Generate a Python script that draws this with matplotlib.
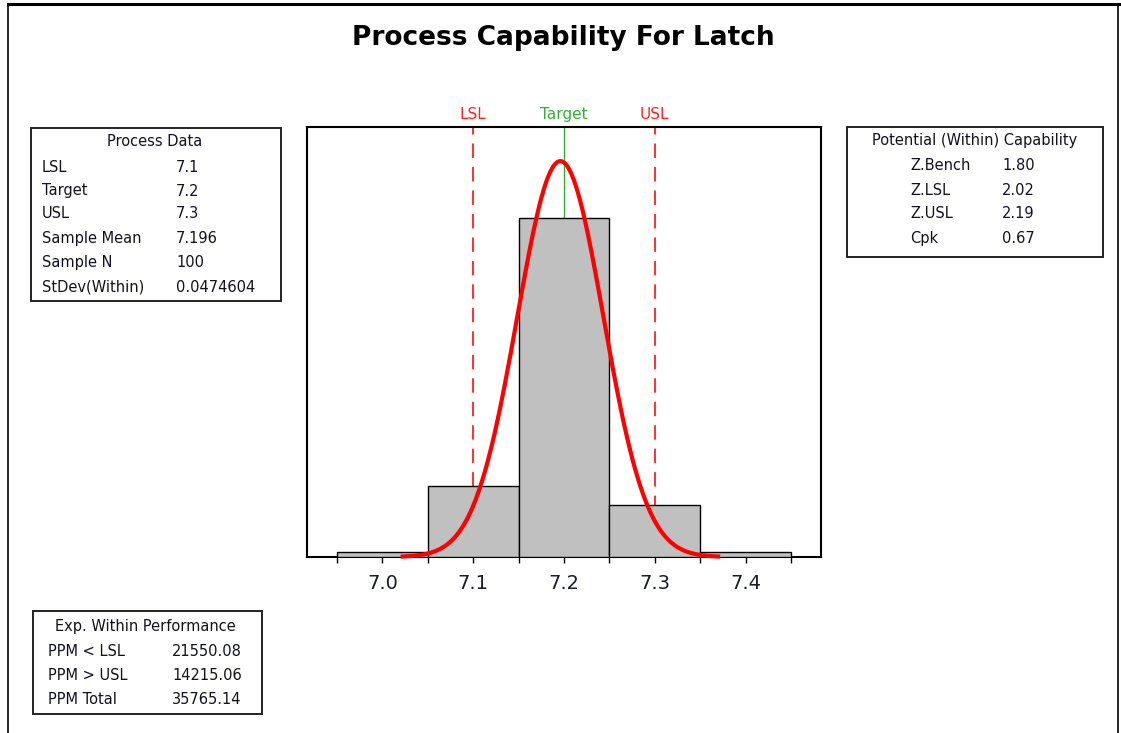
import numpy as np
import matplotlib
matplotlib.use("Agg")
import matplotlib.pyplot as plt
from matplotlib.patches import Rectangle
from matplotlib.ticker import FixedLocator

# Histogram data (bin centres, counts)
bin_centers = [7.0, 7.1, 7.2, 7.3, 7.4]
counts = [1, 15, 72, 11, 1]
bin_width = 0.1

# Process data
lsl, target, usl = 7.1, 7.2, 7.3
sample_mean = 7.196
sample_n = 100
stdev_within = 0.0474604
curve_lo, curve_hi = 7.02, 7.372

process_labels = ["LSL", "Target", "USL", "Sample Mean", "Sample N", "StDev(Within)"]
process_values = ["7.1", "7.2", "7.3", "7.196", "100", "0.0474604"]

cap_labels = ["Z.Bench", "Z.LSL", "Z.USL", "Cpk"]
cap_values = ["1.80", "2.02", "2.19", "0.67"]

perf_labels = ["PPM < LSL", "PPM > USL", "PPM Total"]
perf_values = ["21550.08", "14215.06", "35765.14"]

W, H = 1121, 733
fig = plt.figure(figsize=(W / 100, H / 100), dpi=100)
plt.rcParams['font.family'] = ['DejaVu Sans']


def fx(px):
    return px / W


def fy(py):
    return 1 - py / H


# outer frame
fig.add_artist(plt.Line2D([fx(8), fx(1119)], [fy(4), fy(4)], color="black", lw=2.2))
fig.add_artist(plt.Line2D([fx(8), fx(8)], [fy(4), fy(733)], color="black", lw=1.2))
fig.add_artist(plt.Line2D([fx(1118), fx(1118)], [fy(4), fy(733)], color="black", lw=1.2))

fig.text(fx(563), fy(38), "Process Capability For Latch", ha="center", va="center",
         fontsize=19, fontweight="bold", family=["Liberation Sans Narrow", "DejaVu Sans"])

# main axes
ax = fig.add_axes([fx(307), fy(557), fx(821) - fx(307), fy(127) - fy(557)])
ax.bar(bin_centers, counts, width=bin_width, color="#c0c0c0", edgecolor="black",
       linewidth=1.0, zorder=3)

x = np.linspace(curve_lo, curve_hi, 300)
pdf = np.exp(-0.5 * ((x - sample_mean) / stdev_within) ** 2) / (stdev_within * np.sqrt(2 * np.pi))
ax.plot(x, pdf * sample_n * bin_width, color="red", lw=3.0, zorder=4, clip_on=False,
        solid_capstyle="butt")

for v, name, col, ls in [(lsl, "LSL", "#ff2020", (0, (8, 5))),
                         (target, "Target", "#33b033", "-"),
                         (usl, "USL", "#ff2020", (0, (8, 5)))]:
    ax.axvline(v, color=col, lw=1.3 if ls != "-" else 1.0, linestyle=ls, zorder=2)
    ax.text(v, 1.012, name, color=col, ha="center", va="bottom", fontsize=11,
            transform=ax.get_xaxis_transform())

ax.set_xlim(6.917, 7.483)
ax.set_ylim(0, 91.3)
ax.set_yticks([])
ax.xaxis.set_major_locator(FixedLocator([7.0, 7.1, 7.2, 7.3, 7.4]))
ax.xaxis.set_minor_locator(FixedLocator([6.95, 7.05, 7.15, 7.25, 7.35, 7.45]))
ax.set_xticklabels(["7.0", "7.1", "7.2", "7.3", "7.4"])
ax.tick_params(axis="x", which="both", direction="out", length=4, width=1.0, labelsize=14,
               pad=8, labelcolor="#1a1a33")
for s in ax.spines.values():
    s.set_linewidth(1.5)


def info_box(x0, y0, x1, y1, title, title_x, title_y, labels, values, lab_x, val_x, row_y):
    fig.add_artist(Rectangle((fx(x0), fy(y1)), fx(x1) - fx(x0), fy(y0) - fy(y1),
                             fill=False, edgecolor="#222222", lw=1.4))
    fig.text(fx(title_x), fy(title_y), title, ha="center", va="center", fontsize=10.5,
             color="#111122")
    for i, (lab, val) in enumerate(zip(labels, values)):
        yy = row_y[i]
        fig.text(fx(lab_x), fy(yy), lab, ha="left", va="center", fontsize=10.5, color="#111122")
        fig.text(fx(val_x), fy(yy), val, ha="left", va="center", fontsize=10.5, color="#111122")


info_box(31, 128, 281, 301, "Process Data", 155, 141, process_labels, process_values,
         42, 176, [167, 191, 214, 238, 262, 287])
info_box(847, 127, 1103, 257, "Potential (Within) Capability", 975, 141, cap_labels, cap_values,
         910, 1002, [166, 190, 213, 238])
info_box(33, 611, 262, 714, "Exp. Within Performance", 145, 627, perf_labels, perf_values,
         48, 172, [651, 675, 699])

fig.savefig("out.png", dpi=100)
